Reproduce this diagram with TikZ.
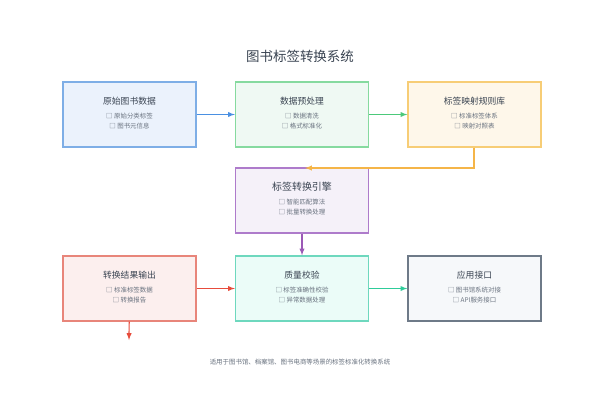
\documentclass[tikz,border=0pt]{standalone}
\usepackage{fontspec}
\setmainfont{Noto Sans CJK SC}
\usepackage{tikz}
\usetikzlibrary{calc}

\definecolor{blueln}{HTML}{7EAEE6}\definecolor{bluebg}{HTML}{EBF2FC}
\definecolor{greenln}{HTML}{86DA9F}\definecolor{greenbg}{HTML}{EFF9F3}
\definecolor{orangeln}{HTML}{F7CD76}\definecolor{orangebg}{HTML}{FEF7EA}
\definecolor{purpleln}{HTML}{AE7BCB}\definecolor{purplebg}{HTML}{F5F1F9}
\definecolor{redln}{HTML}{E8857A}\definecolor{redbg}{HTML}{FCEFEE}
\definecolor{tealln}{HTML}{6ED8BE}\definecolor{tealbg}{HTML}{EBFCF8}
\definecolor{grayln}{HTML}{6E7A88}\definecolor{graybg}{HTML}{F6F8FA}
\definecolor{txt}{HTML}{3A4452}\definecolor{subtxt}{HTML}{6A7380}
\definecolor{bluearr}{HTML}{4A90E2}\definecolor{greenarr}{HTML}{4CC97A}
\definecolor{orangearr}{HTML}{F5B548}\definecolor{purplearr}{HTML}{9B59B6}
\definecolor{redarr}{HTML}{E74C3C}\definecolor{tealarr}{HTML}{2ECC9A}

\tikzset{
  stage/.style={draw=#1ln, fill=#1bg, line width=1.1pt, minimum width=3.99cm, minimum height=1.95cm},
  flow/.style={-latex, line width=1pt}
}
\newcommand{\boxtext}[3]{%
  \node[text=txt, font=\fontsize{7.5}{9}\selectfont] at ($(#1)+(0,-13.5)$) {#2};
  \node[text=subtxt, font=\fontsize{5.5}{7}\selectfont, align=center] at ($(#1)+(0,6.5)$) {#3};}

\begin{document}
\begin{tikzpicture}[x=0.03cm, y=-0.03cm]
    \useasboundingbox[fill=white] (0,0) rectangle (600,418);

    % title
    \node[text=txt, font=\fontsize{11.5}{13}\selectfont] (title) at (300,56) {图书标签转换系统};

    % stages
    \node[stage=blue]   (raw)    at (129.5,114.5) {};
    \node[stage=green]  (pre)    at (302,114.5) {};
    \node[stage=orange] (rules)  at (474.5,114.5) {};
    \node[stage=purple] (engine) at (302,200.5) {};
    \node[stage=red]    (output) at (129.5,288.5) {};
    \node[stage=teal]   (check)  at (302,288.5) {};
    \node[stage=gray]   (api)    at (474.5,288.5) {};

    \boxtext{raw}{原始图书数据}{□ 原始分类标签\\[2pt]□ 图书元信息}
    \boxtext{pre}{数据预处理}{□ 数据清洗\\[2pt]□ 格式标准化}
    \boxtext{rules}{标签映射规则库}{□ 标准标签体系\\[2pt]□ 映射对照表}
    \boxtext{engine}{\fontsize{8.5}{10}\selectfont 标签转换引擎}{□ 智能匹配算法\\[2pt]□ 批量转换处理}
    \boxtext{output}{转换结果输出}{□ 标准标签数据\\[2pt]□ 转换报告}
    \boxtext{check}{质量校验}{□ 标签准确性校验\\[2pt]□ 异常数据处理}
    \boxtext{api}{应用接口}{□ 图书馆系统对接\\[2pt]□ API服务接口}

    % connectors
    \coordinate (bend) at (474,168);
    \coordinate (engtop) at (305,168);
    \coordinate (outend) at (129,340);
    \draw[flow, color=bluearr] (raw) -- (pre);
    \draw[flow, color=greenarr] (pre) -- (rules);
    \draw[flow, color=orangearr] (rules.south -| bend) -- (bend) -- (engtop);
    \draw[flow, color=purplearr] (engine) -- (check);
    \draw[flow, color=redarr] (output) -- (check);
    \draw[flow, color=tealarr] (check) -- (api);
    \draw[flow, color=redarr] (output) -- (outend);

    % footer
    \node[text=subtxt, font=\fontsize{5.5}{7}\selectfont] (note) at (300,362) {适用于图书馆、档案馆、图书电商等场景的标签标准化转换系统};
\end{tikzpicture}
\end{document}
